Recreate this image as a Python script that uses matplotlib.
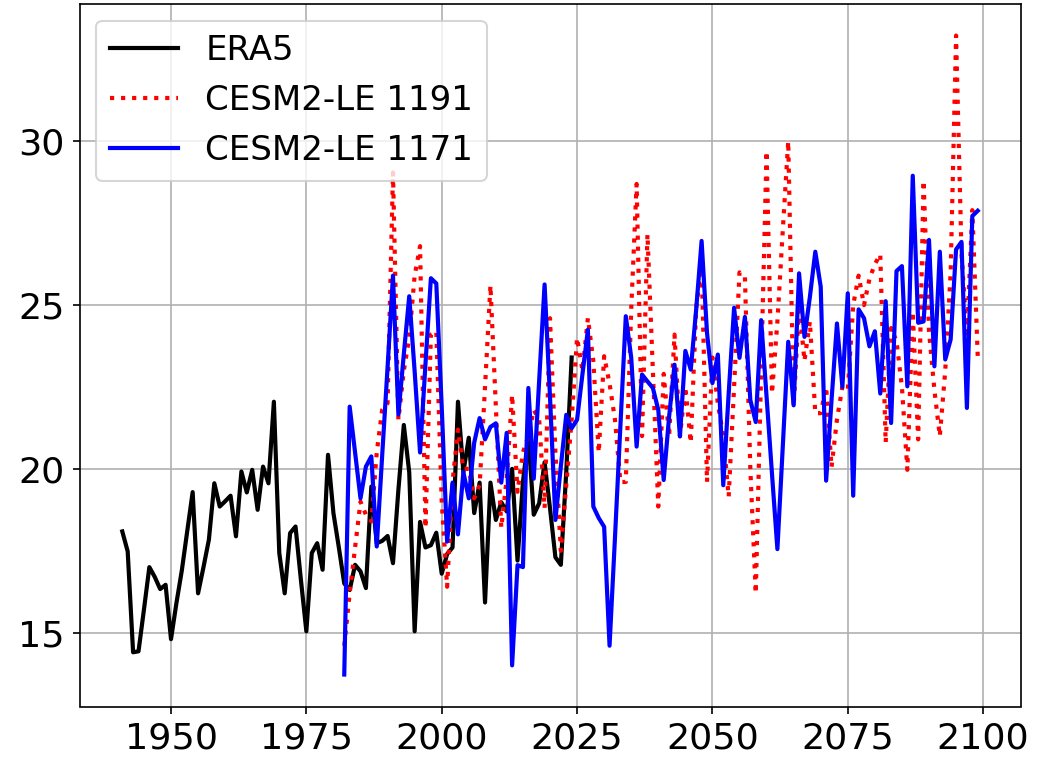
import matplotlib
matplotlib.use("Agg")
import matplotlib.pyplot as plt
import numpy as np

era5_years = list(range(1941, 2025))
era5 = [18.09, 17.48, 14.40, 14.43, 15.7, 17.0, 16.7, 16.33, 16.46, 14.8,
        15.9, 16.9, 18.1, 19.29, 16.2, 17.0, 17.84, 19.56, 18.85, 19.01,
        19.18, 17.94, 19.92, 19.28, 19.97, 18.75, 20.07, 19.56, 22.05, 17.43,
        16.2, 18.04, 18.24, 16.6, 15.04, 17.43, 17.73, 16.92, 20.43, 18.65,
        17.6, 16.5, 16.3, 17.07, 16.87, 16.36, 19.46, 17.73, 17.8, 17.95,
        17.12, 19.36, 21.34, 19.9, 15.04, 18.38, 17.6, 17.67, 18.05, 16.8,
        17.4, 17.6, 22.05, 19.9, 20.95, 18.65, 19.58, 15.92, 19.58, 18.44,
        18.98, 18.7, 20.0, 17.2, 19.6, 21.0, 18.6, 18.95, 20.2, 18.8,
        17.3, 17.07, 19.9, 23.4]

cesm_years = list(range(1982, 2100))
cesm_1191 = [14.6, 16.2, 17.6, 19.0, 18.6, 18.4, 20.5, 21.8, 22.0, 29.05,
             21.5, 23.0, 24.0, 25.9, 26.8, 18.2, 24.1, 24.2, 19.0, 16.4,
             19.6, 21.2, 20.0, 20.0, 19.1, 19.5, 22.5, 25.6, 21.9, 18.2,
             19.7, 22.26, 19.3, 20.5, 21.0, 21.8, 21.5, 18.8, 24.6, 20.5,
             17.5, 19.5, 21.5, 24.0, 23.0, 24.6, 23.3, 20.5, 23.44, 22.6,
             21.5, 19.6, 19.6, 24.87, 28.7, 21.0, 27.16, 23.0, 18.85, 22.9,
             21.0, 24.1, 21.0, 22.5, 20.8, 24.9, 26.3, 19.6, 23.4, 22.0,
             21.0, 19.15, 22.5, 26.0, 25.87, 20.0, 16.2, 23.0, 29.7, 22.3,
             24.5, 27.3, 30.0, 21.9, 25.0, 23.3, 24.5, 21.7, 21.7, 22.5,
             20.05, 21.5, 22.5, 22.4, 25.0, 25.9, 25.0, 25.8, 26.25, 26.55,
             20.8, 24.3, 23.9, 22.5, 19.97, 24.8, 20.9, 28.8, 24.2, 22.4,
             21.0, 23.0, 26.0, 33.23, 26.6, 24.0, 27.9, 23.44]
cesm_1171 = [13.72, 21.9, 20.5, 19.1, 20.07, 20.38, 17.63, 20.4, 23.1, 25.9,
             21.66, 23.5, 25.27, 22.98, 20.5, 23.2, 25.82, 25.66, 21.9, 17.78,
             19.58, 18.0, 19.9, 19.1, 20.8, 21.55, 20.9, 21.28, 21.39, 19.58,
             21.1, 14.0, 17.06, 17.0, 22.47, 19.7, 22.7, 25.63, 22.2, 18.44,
             20.07, 21.65, 21.24, 21.5, 22.9, 24.25, 18.85, 18.5, 18.23, 14.6,
             17.9, 21.3, 24.66, 23.4, 20.68, 22.88, 22.67, 22.47, 21.8, 19.66,
             21.6, 23.18, 20.99, 23.6, 23.03, 24.87, 26.96, 24.15, 22.62, 23.49,
             19.5, 22.3, 24.92, 23.39, 24.64, 22.1, 21.43, 24.54, 22.2, 19.85,
             17.55, 20.7, 23.88, 21.94, 25.97, 24.03, 25.25, 26.63, 25.56, 19.64,
             22.1, 24.44, 22.5, 25.36, 19.18, 24.87, 24.6, 23.74, 24.2, 22.3,
             25.12, 21.4, 26.04, 26.19, 22.52, 28.95, 24.46, 24.5, 26.99, 23.13,
             26.63, 23.34, 23.95, 26.7, 26.93, 21.86, 27.72, 27.88]

labels = ["ERA5", "CESM2-LE 1191", "CESM2-LE 1171"]
xticks = [1950, 1975, 2000, 2025, 2050, 2075, 2100]
yticks = [15, 20, 25, 30]

W, H = 1038, 761
fig = plt.figure(figsize=(W / 150, H / 150), dpi=150)
ax = fig.add_axes([79.5 / W, 1 - 706.5 / H, (1020.5 - 79.5) / W, (706.5 - 3.6) / H])

ax.plot(era5_years, era5, color="k", lw=2, label=labels[0])
ax.plot(cesm_years, cesm_1191, color="r", lw=2, ls=":", label=labels[1])
ax.plot(cesm_years, cesm_1171, color="b", lw=2, label=labels[2])

ax.set_xticks(xticks)
ax.set_yticks(yticks)
ax.tick_params(labelsize=17.5)
ax.grid(True)
ax.legend(loc="upper left", fontsize=16.3)

fig.savefig("out.png", dpi=150)
